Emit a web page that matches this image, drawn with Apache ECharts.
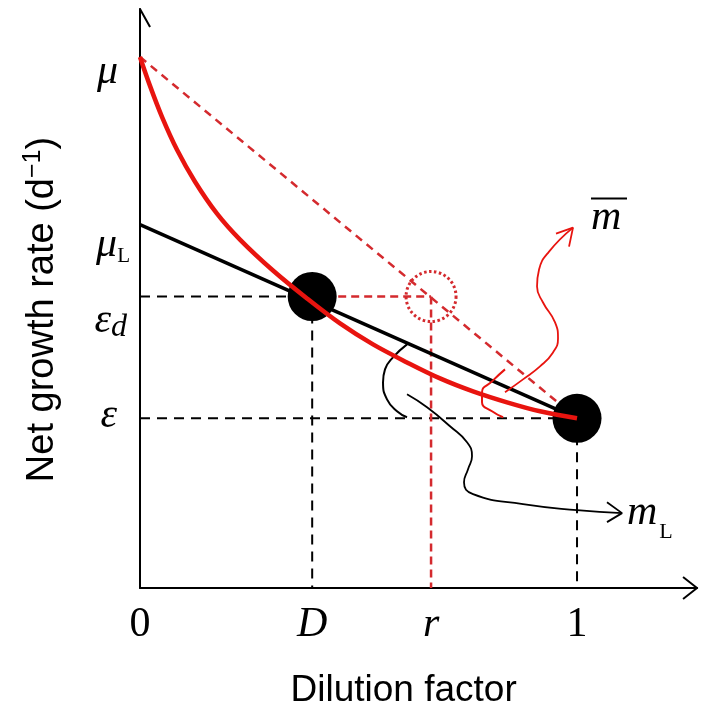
<!DOCTYPE html>
<html><head><meta charset="utf-8">
<script src="https://cdn.jsdelivr.net/npm/echarts@6/dist/echarts.min.js"></script>
<style>html,body{margin:0;padding:0;background:#fff}#c{width:704px;height:714px}</style>
</head><body><div id="c"></div>
<script>
// ---- data (x: dilution factor 0..1, y: arbitrary growth-rate units) ----
const D = 0.394, R = 0.666;
const MU = 5.32, MU_L = 3.64, EPS_D = 2.92, EPS = 1.70;
const xTicks = [0, D, R, 1];
const xTickLabels = ['{n|0}', '{i|D}', '{i|r}', '{n|1}'];
const yTicks = [EPS, EPS_D, MU_L, MU];
const yTickLabels = ['{e|ε}', '{ed|ε}{subd|d}', '{ml|μ}{subL|L}', '{mu|μ}'];
const redCurve = [[0,5.32],[0.0229,5.03],[0.0503,4.72],[0.0847,4.39],[0.1259,4.07],[0.1762,3.75],[0.2288,3.49],[0.3043,3.18],[0.3822,2.90],[0.4577,2.65],[0.5332,2.44],[0.6110,2.26],[0.6865,2.10],[0.7620,1.97],[0.8398,1.86],[0.9153,1.77],[1,1.70]];
const blackLine = [[0,MU_L],[1,EPS]];
const redDiagonal = [[0,MU],[1,EPS]];
const bigPoints = [[D,EPS_D],[1,EPS]];
const rPoint = [[R,EPS_D]];
const dashEpsD = [[0,EPS_D],[D,EPS_D]];
const dashD = [[D,EPS_D],[D,0]];
const dashEps = [[0,EPS],[1,EPS]];
const dashOne = [[1,EPS],[1,0]];
const redDashH = [[D,EPS_D],[R,EPS_D]];
const redDashV = [[R,EPS_D],[R,0]];
const redArc = [[0.8352,2.19],[0.8055,2.07],[0.7826,1.96],[0.7826,1.86],[0.8055,1.77],[0.8307,1.71]];
const blackArc = [[0.611,2.44],[0.5789,2.31],[0.5606,2.19],[0.5561,2.06],[0.5652,1.89],[0.5881,1.77],[0.611,1.71]];
const redWave = [[0.8352,1.96],[0.8764,2.09],[0.9153,2.22],[0.9451,2.36],[0.9565,2.50],[0.9497,2.66],[0.9222,2.86],[0.9085,3.02],[0.9131,3.19],[0.9360,3.37],[0.9908,3.61]];
const redWaveHead = [[0.9519,3.55],[0.9908,3.61],[0.9817,3.42]];
const blackWave = [[0.611,1.94],[0.6568,1.81],[0.7094,1.62],[0.7483,1.46],[0.7597,1.32],[0.7506,1.19],[0.7414,1.06],[0.7620,0.94],[0.8764,0.84],[1.0,0.78],[1.103,0.75]];
const blackWaveHead = [[1.0686,0.86],[1.103,0.75],[1.0686,0.66]];
const xArrowHead = [[1.2426,0.11],[1.2746,0],[1.2426,-0.11]];
const yArrowHead = [[-0.0252,5.62],[0,5.80],[0.023,5.62]];

const SERIF = 'Liberation Serif', SANS = 'Liberation Sans';
const RED = '#e8140f', RED_D = '#d42a2e';

function pick(vals, labels, v){ for(let i=0;i<vals.length;i++){ if(Math.abs(vals[i]-v)<1e-6) return labels[i]; } return ''; }
function ln(data, color, width, type, extra){
  return Object.assign({type:'line', data, symbol:'none', showSymbol:false, clip:false, silent:true,
    lineStyle:{color, width, type}, z:2}, extra||{});
}

const chart = echarts.init(document.getElementById('c'), null, {renderer:'canvas'});
chart.setOption({
  animation:false,
  backgroundColor:'#fff',
  grid:{left:140, top:9, width:557.2, height:580},
  xAxis:{type:'value', min:0, max:1.275,
    axisLine:{show:true, lineStyle:{color:'#000', width:2}},
    axisTick:{show:false}, splitLine:{show:false},
    axisLabel:{customValues:xTicks, margin:16, formatter:v=>pick(xTicks,xTickLabels,v),
      rich:{n:{fontFamily:SERIF, fontSize:42, color:'#000'}, i:{fontFamily:SERIF, fontStyle:'italic', fontSize:42, color:'#000'}}},
    name:'Dilution factor', nameLocation:'middle', nameGap:84,
    nameTextStyle:{fontFamily:SANS, fontSize:37, color:'#000', padding:[0,30,0,0]}
  },
  yAxis:{type:'value', min:0, max:5.8,
    axisLine:{show:true, lineStyle:{color:'#000', width:2}},
    axisTick:{show:false}, splitLine:{show:false},
    axisLabel:{customValues:yTicks, margin:10, formatter:v=>pick(yTicks,yTickLabels,v),
      rich:{
        mu:{fontFamily:SERIF, fontStyle:'italic', fontSize:42, color:'#000', padding:[30,12,0,0]},
        ml:{fontFamily:SERIF, fontStyle:'italic', fontSize:42, color:'#000', padding:[40,0,0,0]},
        subL:{fontFamily:SERIF, fontSize:21, color:'#000', padding:[64,0,0,0]},
        ed:{fontFamily:SERIF, fontStyle:'italic', fontSize:42, color:'#000', padding:[48,0,0,0]},
        subd:{fontFamily:SERIF, fontStyle:'italic', fontSize:32, color:'#000', padding:[62,3,0,0]},
        e:{fontFamily:SERIF, fontStyle:'italic', fontSize:42, color:'#000', padding:[0,13,4,0]}
      }},
    name:'{t|Net growth rate (d}{s|−1}{t|)}', nameLocation:'middle', nameGap:76,
    nameTextStyle:{padding:[0,22,0,0], rich:{t:{fontFamily:SANS, fontSize:38, color:'#000'}, s:{fontFamily:SANS, fontSize:25, color:'#000', padding:[0,0,18,0]}}}
  },
  series:[
    ln(dashEpsD,'#000',2,[10,7]),
    ln(dashD,'#000',2,[10,7]),
    ln(dashEps,'#000',2,[10,7]),
    ln(dashOne,'#000',2,[10,7]),
    ln(redDashH,RED_D,2.5,[8,5]),
    ln(redDashV,RED_D,2.5,[8,5]),
    ln(redDiagonal,RED_D,2.5,[8,6]),
    ln(blackLine,'#000',3.5,'solid'),
    ln(blackArc,'#000',2,'solid',{smooth:true}),
    ln(blackWave,'#000',1.8,'solid',{smooth:true,
      endLabel:{show:true, distance:5, formatter:'{m|m}{s|L}',
        rich:{m:{fontFamily:SERIF, fontStyle:'italic', fontSize:42, color:'#000'}, s:{fontFamily:SERIF, fontSize:22, color:'#000', padding:[38,0,0,2]}}}}),
    ln(blackWaveHead,'#000',1.8,'solid'),
    ln(redArc,RED,2,'solid',{smooth:true}),
    ln(redWave,RED,1.8,'solid',{smooth:true,
      endLabel:{show:true, distance:18, offset:[0,-12], formatter:'{b|}\n{m|m}',
        rich:{b:{width:36, height:2, backgroundColor:'#000', lineHeight:4}, m:{fontFamily:SERIF, fontStyle:'italic', fontSize:42, color:'#000', lineHeight:34}}}}),
    ln(redWaveHead,RED,1.8,'solid'),
    {type:'scatter', data:bigPoints, symbol:'circle', symbolSize:49, silent:true, itemStyle:{color:'#000', opacity:1}, z:3},
    ln(redCurve,RED,4.5,'solid',{smooth:0.35, z:4}),
    {type:'scatter', data:rPoint, symbol:'circle', symbolSize:50, silent:true, z:4,
      itemStyle:{color:'rgba(0,0,0,0)', opacity:1, borderColor:RED_D, borderWidth:3, borderType:[2.5,2.5]}},
    ln(xArrowHead,'#000',2,'solid'),
    ln(yArrowHead,'#000',2,'solid')
  ]
});
</script></body></html>
